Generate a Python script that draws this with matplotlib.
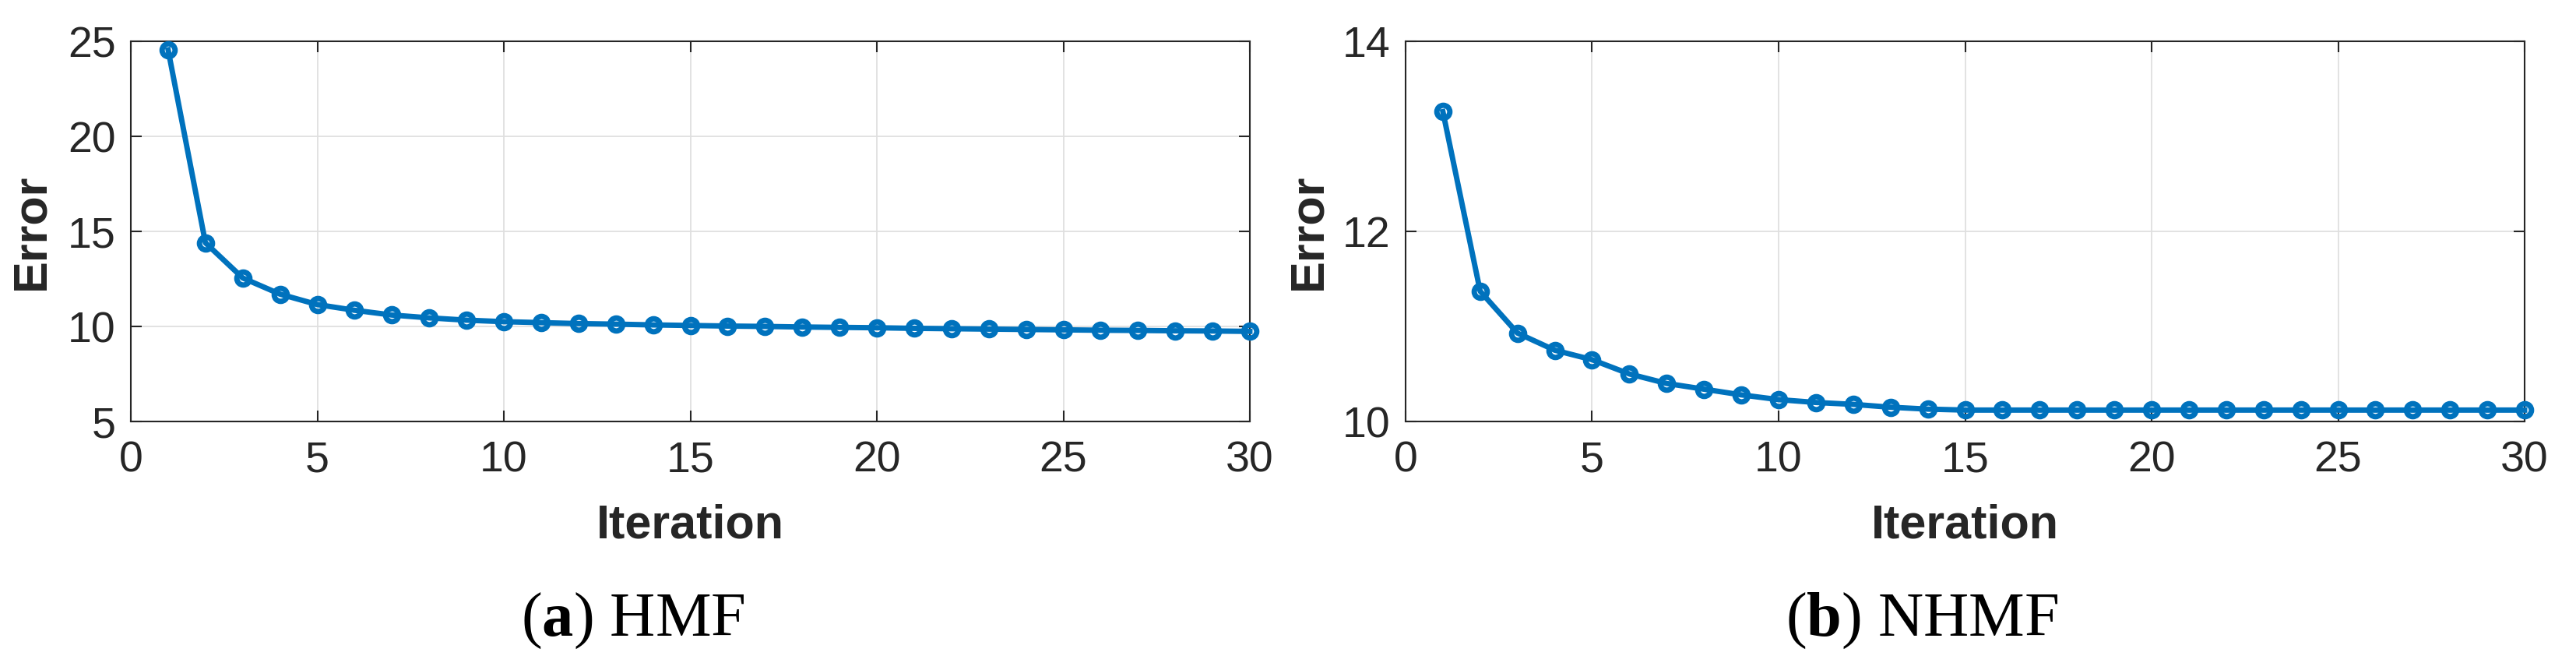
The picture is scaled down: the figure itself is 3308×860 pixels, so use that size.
import matplotlib
matplotlib.use("Agg")
import matplotlib.pyplot as plt

plt.rcParams['mathtext.fontset'] = 'custom'
plt.rcParams['mathtext.rm'] = 'Liberation Serif'
plt.rcParams['mathtext.bf'] = 'Liberation Serif:bold'

iterations = list(range(1, 31))
hmf_error = [24.55, 14.4, 12.55, 11.7, 11.15, 10.85, 10.6, 10.45, 10.33, 10.25,
             10.2, 10.15, 10.12, 10.08, 10.05, 10.02, 10.0, 9.97, 9.95, 9.93,
             9.9, 9.88, 9.86, 9.84, 9.82, 9.8, 9.79, 9.77, 9.76, 9.74]
nhmf_error = [13.26, 11.37, 10.93, 10.75, 10.65, 10.5, 10.4, 10.34, 10.28, 10.23,
              10.2, 10.18, 10.15, 10.13, 10.12, 10.12, 10.12, 10.12, 10.12, 10.12,
              10.12, 10.12, 10.12, 10.12, 10.12, 10.12, 10.12, 10.12, 10.12, 10.12]
x_ticks = [0, 5, 10, 15, 20, 25, 30]
hmf_yticks = [5, 10, 15, 20, 25]
nhmf_yticks = [10, 12, 14]
captions = [r"($\mathbf{a}$) HMF", r"($\mathbf{b}$) NHMF"]

W, H = 3308, 860
fig = plt.figure(figsize=(W / 100, H / 100), dpi=100)

LINE = '#0072BD'
DARK = '#262626'

panels = [
    dict(rect=(168, 53, 1605, 541), y=hmf_error, yticks=hmf_yticks, ylim=(5, 25),
         ylab_x=41, cap_x=813, cap=captions[0]),
    dict(rect=(1805, 53, 3242, 541), y=nhmf_error, yticks=nhmf_yticks, ylim=(10, 14),
         ylab_x=1681, cap_x=2468, cap=captions[1]),
]

for p in panels:
    x0, y0, x1, y1 = p['rect']
    ax = fig.add_axes([x0 / W, 1 - y1 / H, (x1 - x0) / W, (y1 - y0) / H])
    ax.plot(iterations, p['y'], color=LINE, lw=5, marker='o', ms=12,
            mfc='none', mec=LINE, mew=5, clip_on=False, zorder=3)
    ax.set_xlim(0, 30)
    ax.set_ylim(*p['ylim'])
    ax.set_xticks(x_ticks)
    ax.set_yticks(p['yticks'])
    ax.grid(True, color='#DFDFDF', lw=1.3)
    ax.set_axisbelow(True)
    for s in ax.spines.values():
        s.set_color(DARK)
        s.set_linewidth(1.5)
    ax.tick_params(direction='in', length=10, width=1.5, color=DARK,
                   top=True, right=True, labelsize=40, labelcolor=DARK)
    ax.tick_params(axis='x', pad=18)
    ax.tick_params(axis='y', pad=14)
    for lab in ax.get_xticklabels() + ax.get_yticklabels():
        lab.set_fontfamily('Liberation Sans')
    fig.text(p['ylab_x'] / W, 1 - 297 / H, 'Error', rotation=90, ha='center', va='center',
             fontsize=44, fontweight='bold', fontfamily='Liberation Sans', color=DARK)
    fig.text((x0 + x1) / 2 / W, 1 - 675 / H, 'Iteration', ha='center', va='center',
             fontsize=44, fontweight='bold', fontfamily='Liberation Sans', color=DARK)
    fig.text(p['cap_x'] / W, 1 - 797 / H, p['cap'], ha='center', va='center',
             fontsize=58, fontfamily='Liberation Serif', color='black')

fig.savefig('out.png', dpi=100, facecolor='white')
